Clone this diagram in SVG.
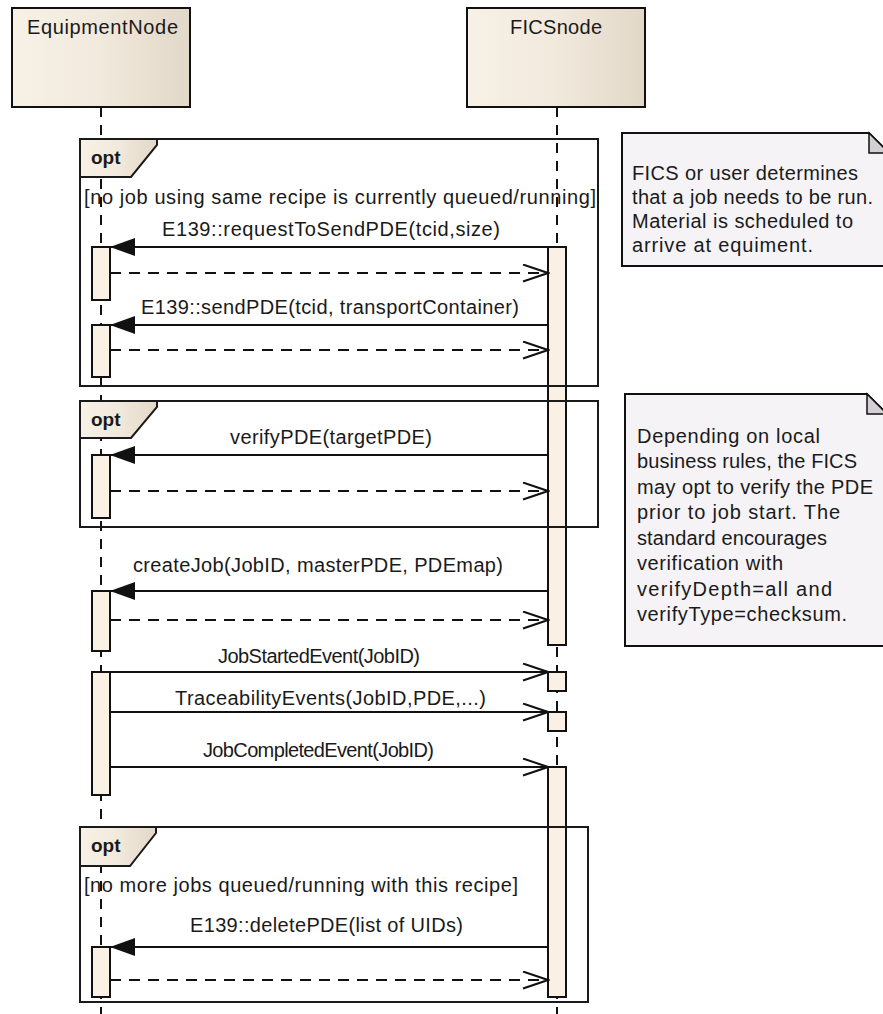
<svg xmlns="http://www.w3.org/2000/svg" width="883" height="1014" viewBox="0 0 883 1014">
<defs>
<linearGradient id="hdr" x1="0" y1="0" x2="1" y2="0">
<stop offset="0" stop-color="#F7F1E7"/>
<stop offset="0.5" stop-color="#F1E9DC"/>
<stop offset="1" stop-color="#E2D8C8"/>
</linearGradient>
<marker id="open" markerWidth="28" markerHeight="20" refX="26" refY="9.5" orient="auto" markerUnits="userSpaceOnUse">
<polyline points="1,1 26,9.5 1,18" fill="none" stroke="#111" stroke-width="2"/>
</marker>
<marker id="filled" markerWidth="28" markerHeight="20" refX="26" refY="9.5" orient="auto" markerUnits="userSpaceOnUse">
<polygon points="1,0.5 26,9.5 1,18.5" fill="#111"/>
</marker>
</defs>
<style>
text{font-family:"Liberation Sans",Arial,sans-serif;font-size:20px;fill:#1a1a1a}
.b{font-weight:bold;font-size:19px}
.m{text-anchor:middle}
.hdr{fill:url(#hdr);stroke:#111;stroke-width:2}
.life{stroke:#111;stroke-width:2;stroke-dasharray:10,8;fill:none}
.frame{fill:none;stroke:#1a1a1a;stroke-width:2}
.tab{fill:url(#hdr);stroke:#1a1a1a;stroke-width:2}
.act{fill:#FAF1E4;stroke:#111;stroke-width:2}
.call{stroke:#111;stroke-width:2;fill:none;marker-end:url(#filled)}
.ret{stroke:#111;stroke-width:2;fill:none;stroke-dasharray:11,8;marker-end:url(#open)}
.async{stroke:#111;stroke-width:2;fill:none;marker-end:url(#open)}
.note{fill:#F5F3F6;stroke:#111;stroke-width:2}
.fold{fill:#D3CFD4;stroke:#111;stroke-width:1.5}
</style>

<g id="frame-guards">
<text x="84" y="204" textLength="512">[no job using same recipe is currently queued/running]</text>
<text x="84" y="892" textLength="434">[no more jobs queued/running with this recipe]</text>
</g>

<g id="EquipmentNode">
<rect class="hdr" x="12" y="8" width="178" height="99"/>
<text class="m" x="102.5" y="34" textLength="151">EquipmentNode</text>
<line class="life" x1="101" y1="107" x2="101" y2="1014"/>
<rect class="act" x="92" y="247" width="18" height="53"/>
<rect class="act" x="92" y="325" width="18" height="52"/>
<rect class="act" x="92" y="455" width="18" height="63"/>
<rect class="act" x="92" y="591" width="18" height="60"/>
<rect class="act" x="92" y="672" width="18" height="123"/>
<rect class="act" x="92" y="947" width="18" height="50"/>
</g>

<g id="FICSnode">
<rect class="hdr" x="467" y="8" width="178" height="99"/>
<text class="m" x="556" y="34" textLength="92">FICSnode</text>
<line class="life" x1="557" y1="107" x2="557" y2="1014"/>
<rect class="act" x="548" y="247" width="18" height="398"/>
<rect class="act" x="548" y="672" width="18" height="19"/>
<rect class="act" x="548" y="712" width="18" height="19"/>
<rect class="act" x="548" y="767" width="18" height="230"/>
</g>

<g id="frame-opt1">
<rect class="frame" x="80" y="139" width="518" height="247"/>
<path class="tab" d="M80,139 H157 V145 L131,177 H80 Z"/>
<text class="b" x="91" y="164">opt</text>
</g>
<g id="frame-opt2">
<rect class="frame" x="80" y="401" width="518" height="126"/>
<path class="tab" d="M80,401 H157 V407 L131,438 H80 Z"/>
<text class="b" x="91" y="426">opt</text>
</g>
<g id="frame-opt3">
<rect class="frame" x="80" y="827" width="508" height="175"/>
<path class="tab" d="M80,827 H156 V833 L130,866 H80 Z"/>
<text class="b" x="91" y="852">opt</text>
</g>

<g id="connectors">
<line class="call" x1="548" y1="247" x2="110" y2="247"/>
<text x="162" y="236" textLength="338">E139::requestToSendPDE(tcid,size)</text>
<line class="ret" x1="110" y1="273" x2="548" y2="273"/>
<line class="call" x1="548" y1="325" x2="110" y2="325"/>
<text x="141" y="314" textLength="378">E139::sendPDE(tcid, transportContainer)</text>
<line class="ret" x1="110" y1="350" x2="548" y2="350"/>
<line class="call" x1="548" y1="455" x2="110" y2="455"/>
<text x="230" y="444" textLength="202">verifyPDE(targetPDE)</text>
<line class="ret" x1="110" y1="491" x2="548" y2="491"/>
<line class="call" x1="548" y1="591" x2="110" y2="591"/>
<text x="133" y="572" textLength="370">createJob(JobID, masterPDE, PDEmap)</text>
<line class="ret" x1="110" y1="620" x2="548" y2="620"/>
<line class="async" x1="110" y1="672" x2="548" y2="672"/>
<text x="218" y="663" textLength="202">JobStartedEvent(JobID)</text>
<line class="async" x1="110" y1="712" x2="548" y2="712"/>
<text x="175" y="705" textLength="311">TraceabilityEvents(JobID,PDE,...)</text>
<line class="async" x1="110" y1="767" x2="548" y2="767"/>
<text x="203" y="757" textLength="231">JobCompletedEvent(JobID)</text>
<line class="call" x1="548" y1="947" x2="110" y2="947"/>
<text x="190" y="932" textLength="273">E139::deletePDE(list of UIDs)</text>
<line class="ret" x1="110" y1="980" x2="548" y2="980"/>
</g>

<g id="note1">
<path class="note" d="M622,133 H869 L889,153 V266 H622 Z"/>
<path class="fold" d="M869,133 V153 H889 Z"/>
<text x="632" y="180" textLength="226">FICS or user determines</text>
<text x="632" y="204" textLength="241">that a job needs to be run.</text>
<text x="632" y="228" textLength="221">Material is scheduled to</text>
<text x="632" y="252" textLength="181">arrive at equiment.</text>
</g>

<g id="note2">
<path class="note" d="M625,394 H867 L887,414 V646 H625 Z"/>
<path class="fold" d="M867,394 V414 H887 Z"/>
<text x="637" y="443" textLength="183">Depending on local</text>
<text x="637" y="468" textLength="220">business rules, the FICS</text>
<text x="637" y="494" textLength="236">may opt to verify the PDE</text>
<text x="637" y="519" textLength="203">prior to job start. The</text>
<text x="637" y="545" textLength="190">standard encourages</text>
<text x="637" y="570" textLength="146">verification with</text>
<text x="637" y="596" textLength="195">verifyDepth=all and</text>
<text x="637" y="621" textLength="210">verifyType=checksum.</text>
</g>
</svg>
